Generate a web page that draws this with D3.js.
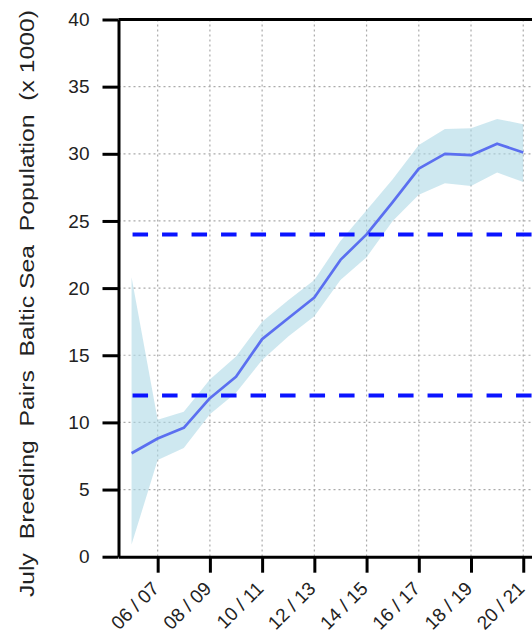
<!DOCTYPE html>
<html>
<head>
<meta charset="utf-8">
<script src="https://cdn.jsdelivr.net/npm/d3@7"></script>
<style>
  body { margin: 0; background: #fff; }
  svg { display: block; font-family: "Liberation Sans", Arial, sans-serif; }
</style>
</head>
<body>
<script>
// seasons shown on the x axis (one point per season)
var seasons = ["05 / 06", "06 / 07", "07 / 08", "08 / 09", "09 / 10", "10 / 11", "11 / 12", "12 / 13",
    "13 / 14", "14 / 15", "15 / 16", "16 / 17", "17 / 18", "18 / 19", "19 / 20", "20 / 21"];

// population estimate (x 1000) and its band
var meanPop = [7.7, 8.8, 9.6, 11.8, 13.4, 16.2, 17.75, 19.3, 22.1, 24.0, 26.4, 28.9, 30.0, 29.9, 30.75, 30.1];
var lowerPop = [0.9, 7.2, 8.1, 10.6, 12.2, 14.65, 16.4, 17.9, 20.6, 22.3, 25.0, 26.95, 27.8, 27.6, 28.6, 27.9];
var upperPop = [20.8, 10.2, 10.8, 13.2, 14.9, 17.5, 19.1, 20.6, 23.5, 25.8, 28.1, 30.65, 31.85, 31.9, 32.6, 32.2];

// reference levels
var refLevels = [12, 24];

// tick values
var yTicks = [0, 5, 10, 15, 20, 25, 30, 35, 40];
var xTickIdx = [1, 3, 5, 7, 9, 11, 13, 15];

var svgWidth = 532;
var svgHeight = 634;

var svg = d3.select("body").append("svg")
    .attr("width", svgWidth)
    .attr("height", svgHeight);

var x = d3.scaleLinear()
    .domain([-0.5, 15.5])
    .range([118.5, 536.3]);

var y = d3.scaleLinear()
    .domain([0, 40])
    .range([556.7, 19.5]);

var data = seasons.map(function (s, i) {
    return { i: i, mean: meanPop[i], lo: lowerPop[i], hi: upperPop[i] };
});

// grid lines
var grid = svg.append("g").attr("class", "grid");
grid.selectAll("line.v")
    .data(xTickIdx)
    .enter().append("line")
    .attr("x1", d => x(d)).attr("x2", d => x(d))
    .attr("y1", y(40)).attr("y2", y(0));
grid.selectAll("line.h")
    .data(yTicks.filter(d => d > 0 && d < 40))
    .enter().append("line")
    .attr("x1", x(-0.5)).attr("x2", svgWidth + 10)
    .attr("y1", d => y(d)).attr("y2", d => y(d));
grid.selectAll("line")
    .attr("stroke", "#aaa")
    .attr("stroke-width", 1.2)
    .attr("stroke-dasharray", "2,3");

// band
var area = d3.area()
    .x(d => x(d.i))
    .y0(d => y(d.lo))
    .y1(d => y(d.hi));

svg.append("path")
    .datum(data)
    .attr("d", area)
    .attr("fill", "#add8e6")
    .attr("fill-opacity", 0.6);

// mean line
var line = d3.line()
    .x(d => x(d.i))
    .y(d => y(d.mean));

svg.append("path")
    .datum(data)
    .attr("d", line)
    .attr("fill", "none")
    .attr("stroke", "#5b6ff0")
    .attr("stroke-width", 2.7)
    .attr("stroke-linejoin", "round");

// dashed reference lines
svg.selectAll("line.ref")
    .data(refLevels)
    .enter().append("line")
    .attr("class", "ref")
    .attr("x1", x(0) + 1).attr("x2", svgWidth + 20)
    .attr("y1", d => y(d)).attr("y2", d => y(d))
    .attr("stroke", "#0a14ff")
    .attr("stroke-width", 4)
    .attr("stroke-dasharray", "15.5,14");

// top frame
svg.append("line")
    .attr("x1", x(-0.5)).attr("x2", svgWidth + 10)
    .attr("y1", y(40)).attr("y2", y(40))
    .attr("stroke", "#000")
    .attr("stroke-width", 3);

// axes
var leftAxis = d3.axisLeft(y)
    .tickValues(yTicks)
    .tickSize(16)
    .tickSizeOuter(0)
    .tickPadding(13);

var bottomAxis = d3.axisBottom(x)
    .tickValues(xTickIdx)
    .tickFormat(d => seasons[d])
    .tickSize(16)
    .tickSizeOuter(0);

var xAxis = svg.append("g")
    .attr("transform", `translate(0, ${y(0)})`)
    .call(bottomAxis);

var yAxis = svg.append("g")
    .attr("transform", `translate(${x(-0.5)}, 0)`)
    .call(leftAxis);

svg.selectAll(".domain, .tick line")
    .attr("stroke", "#000")
    .attr("stroke-width", 3);

svg.selectAll(".tick text")
    .attr("fill", "#222")
    .style("font-size", "19px");

xAxis.selectAll("text")
    .attr("text-anchor", "end")
    .attr("x", 0)
    .attr("y", 0)
    .attr("dy", 0)
    .attr("transform", "translate(2, 33) rotate(-45)");

// y axis title, stretched from y=597 up to y=10
svg.append("text")
    .attr("transform", "rotate(-90)")
    .attr("x", -597)
    .attr("y", 34)
    .attr("textLength", 587)
    .attr("lengthAdjust", "spacingAndGlyphs")
    .attr("xml:space", "preserve")
    .style("white-space", "pre")
    .style("font-size", "21px")
    .attr("fill", "#222")
    .text("July  Breeding  Pairs  Baltic Sea  Population  (x 1000)");
</script>
</body>
</html>
